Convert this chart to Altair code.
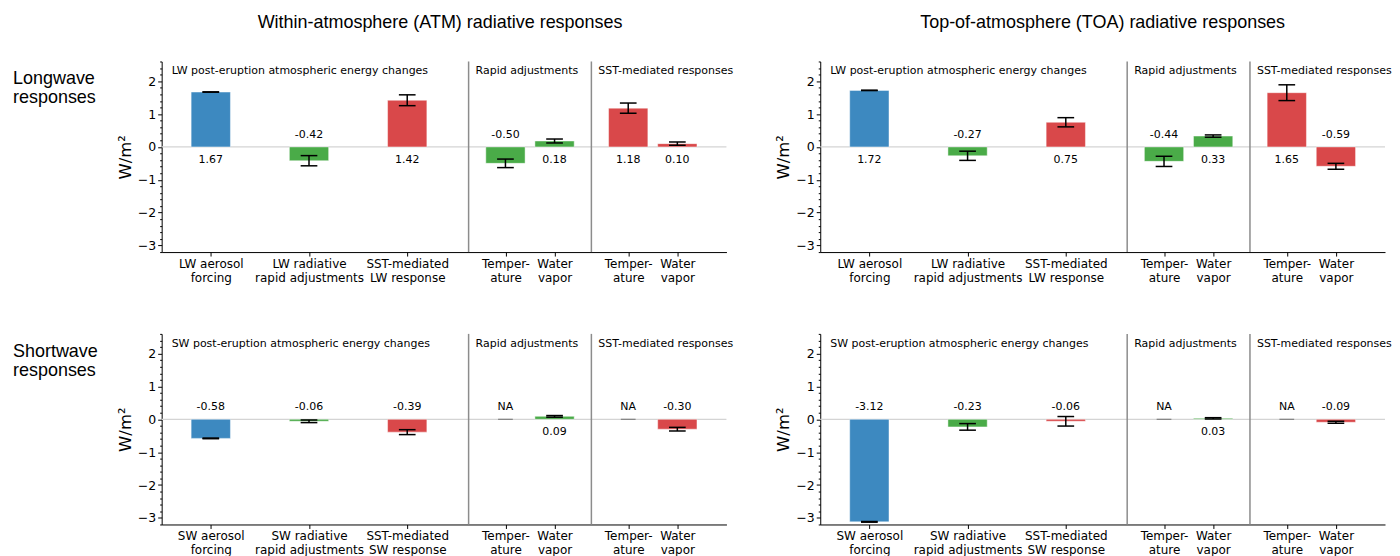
import altair as alt
import pandas as pd

# ---------------- data ----------------
labels_lw = ["LW aerosol\nforcing", "LW radiative\nrapid adjustments", "SST-mediated\nLW response",
             "Temper-\nature", "Water\nvapor", "Temper-\nature", "Water\nvapor"]
labels_sw = ["SW aerosol\nforcing", "SW radiative\nrapid adjustments", "SST-mediated\nSW response",
             "Temper-\nature", "Water\nvapor", "Temper-\nature", "Water\nvapor"]
kinds = ["forcing", "rapid", "sst", "rapid", "rapid", "sst", "sst"]

atm_lw_values = [1.67, -0.42, 1.42, -0.50, 0.18, 1.18, 0.10]
atm_lw_err = [0.005, 0.155, 0.165, 0.13, 0.06, 0.155, 0.05]
toa_lw_values = [1.72, -0.27, 0.75, -0.44, 0.33, 1.65, -0.59]
toa_lw_err = [0.005, 0.14, 0.14, 0.155, 0.035, 0.24, 0.09]
atm_sw_values = [-0.58, -0.06, -0.39, None, 0.09, None, -0.30]
atm_sw_err = [0.01, 0.04, 0.075, None, 0.025, None, 0.055]
toa_sw_values = [-3.12, -0.23, -0.06, None, 0.03, None, -0.09]
toa_sw_err = [0.01, 0.10, 0.145, None, 0.02, None, 0.03]

group_titles_lw = ["LW post-eruption atmospheric energy changes", "Rapid adjustments", "SST-mediated responses"]
group_titles_sw = ["SW post-eruption atmospheric energy changes", "Rapid adjustments", "SST-mediated responses"]
col_titles = ["Within-atmosphere (ATM) radiative responses", "Top-of-atmosphere (TOA) radiative responses"]
row_titles = ["Longwave\nresponses", "Shortwave\nresponses"]

# ---------------- layout ----------------
POS = [0, 2, 4, 6, 7, 8.5, 9.5]
GROUP_STARTS = [-1, 5.25, 7.75]
SEPS = [5.25, 7.75]
XDOM = [-1, 10.5]
YDOM = [-3.2, 2.6]
W, H = 566, 191
BAR_HALF = 0.4
CAP_HALF = 0.17
COLORS = {"forcing": "#3d89c0", "rapid": "#4aab48", "sst": "#d9484a"}
FONT = "DejaVu Sans"
TFONT = "Liberation Sans"

y_ticks = [k / 5 for k in range(-16, 14)]


def x_label_expr(labels):
    expr = "''"
    for p, l in reversed(list(zip(POS, labels))):
        parts = ",".join("'" + s + "'" for s in l.split("\n"))
        expr = f"datum.value == {p} ? [{parts}] : ({expr})"
    return expr


def panel(values, errs, labels, gtitles, title=None, row_label=None, title_dx=0):
    rows = []
    for i, (v, e, k) in enumerate(zip(values, errs, kinds)):
        rows.append(dict(pos=POS[i], value=v, err=e, kind=k,
                         txt=("NA" if v is None else f"{v:.2f}")))
    df = pd.DataFrame(rows)

    xax = alt.Axis(title="", values=POS, labelExpr=x_label_expr(labels), labelAngle=0,
                   labelFontSize=12, labelLineHeight=14, tickSize=4, labelPadding=2,
                   domainColor="black", tickColor="black", labelColor="black", grid=False)
    yax = alt.Axis(title="W/m²", values=y_ticks,
                   labelExpr="abs(datum.value - round(datum.value)) < 0.01 ? format(round(datum.value), 'd') : ''",
                   tickSize={"condition": {"test": "abs(datum.value - round(datum.value)) < 0.01", "value": 4},
                             "value": 2},
                   labelFontSize=12.5, labelPadding=2, titleFontSize=16.5, titleFontWeight="normal",
                   titlePadding=4, titleFont=FONT, domainColor="black", tickColor="black",
                   labelColor="black", grid=False)
    xs = alt.Scale(domain=XDOM, nice=False, zero=False)
    ys = alt.Scale(domain=YDOM, nice=False, zero=False)

    base = alt.Chart(df)

    zero = base.mark_rule(color="#d4d4d4", strokeWidth=1.2).encode(
        y=alt.Y("z:Q", scale=ys, axis=yax)).transform_calculate(z="0").transform_filter("datum.pos == 0")

    seps = alt.Chart(pd.DataFrame({"s": SEPS})).mark_rule(color="#8c8c8c", strokeWidth=1.5).encode(
        x=alt.X("s:Q", scale=xs, axis=xax))

    valid = base.transform_filter("isValid(datum.value)")

    bars = valid.transform_calculate(
        x1=f"datum.pos - {BAR_HALF}", x2=f"datum.pos + {BAR_HALF}", z="0"
    ).mark_bar(stroke="white", strokeOpacity=0.45, strokeWidth=1).encode(
        x=alt.X("x1:Q", scale=xs, axis=xax), x2="x2:Q",
        y=alt.Y("value:Q", scale=ys, axis=yax), y2="z:Q",
        color=alt.Color("kind:N", scale=alt.Scale(domain=list(COLORS), range=list(COLORS.values())), legend=None))

    errs_l = valid.transform_calculate(
        lo="datum.value - datum.err", hi="datum.value + datum.err",
        c1=f"datum.pos - {CAP_HALF}", c2=f"datum.pos + {CAP_HALF}")

    ebar = errs_l.mark_rule(color="black", strokeWidth=1.5).encode(
        x=alt.X("pos:Q", scale=xs, axis=xax), y=alt.Y("lo:Q", scale=ys, axis=yax), y2="hi:Q")
    cap_lo = errs_l.mark_rule(color="black", strokeWidth=1.5).encode(
        x=alt.X("c1:Q", scale=xs, axis=xax), x2="c2:Q", y=alt.Y("lo:Q", scale=ys, axis=yax))
    cap_hi = errs_l.mark_rule(color="black", strokeWidth=1.5).encode(
        x=alt.X("c1:Q", scale=xs, axis=xax), x2="c2:Q", y=alt.Y("hi:Q", scale=ys, axis=yax))

    na = base.transform_filter("!isValid(datum.value)").transform_calculate(
        c1=f"datum.pos - 0.15", c2=f"datum.pos + 0.15", z="0"
    ).mark_rule(color="#808080", strokeWidth=1.2).encode(
        x=alt.X("c1:Q", scale=xs, axis=xax), x2="c2:Q", y=alt.Y("z:Q", scale=ys, axis=yax))

    vlab = base.transform_calculate(
        ly="isValid(datum.value) && datum.value >= 0 ? -0.4 : 0.37"
    ).mark_text(font=FONT, fontSize=11, color="black", baseline="middle").encode(
        x=alt.X("pos:Q", scale=xs, axis=xax), y=alt.Y("ly:Q", scale=ys, axis=yax), text="txt:N")

    gdf = pd.DataFrame({"g": gtitles, "gx": GROUP_STARTS})
    gt1 = alt.Chart(gdf.iloc[:1]).mark_text(font=FONT, fontSize=11, color="black", align="left",
                                             baseline="middle", dx=10).encode(
        x=alt.X("gx:Q", scale=xs, axis=xax), y=alt.value(10), text="g:N")
    gt2 = alt.Chart(gdf.iloc[1:]).mark_text(font=FONT, fontSize=11, color="black", align="left",
                                             baseline="middle", dx=7).encode(
        x=alt.X("gx:Q", scale=xs, axis=xax), y=alt.value(10), text="g:N")

    layers = [zero, seps, bars, ebar, cap_lo, cap_hi, na, vlab, gt1, gt2]
    if row_label is not None:
        rl = alt.Chart(pd.DataFrame({"t": [row_label]})).mark_text(
            font=TFONT, fontSize=18, color="black", align="left", baseline="top",
            lineBreak="\n", lineHeight=19).encode(x=alt.value(-149), y=alt.value(9), text="t:N")
        layers.append(rl)

    ch = alt.layer(*layers).properties(width=W, height=H)
    if title is not None:
        ch = ch.properties(title=alt.TitleParams(title, font=TFONT, fontSize=18, fontWeight="normal",
                                                 anchor="middle", frame="group", offset=29, color="black",
                                                 dx=title_dx))
    return ch


p11 = panel(atm_lw_values, atm_lw_err, labels_lw, group_titles_lw, col_titles[0], row_titles[0], title_dx=-4)
p12 = panel(toa_lw_values, toa_lw_err, labels_lw, group_titles_lw, col_titles[1])
p21 = panel(atm_sw_values, atm_sw_err, labels_sw, group_titles_sw, None, row_titles[1])
p22 = panel(toa_sw_values, toa_sw_err, labels_sw, group_titles_sw)

row1 = alt.hconcat(p11, p12, spacing=42)
row2 = alt.hconcat(p21, p22, spacing=42)
chart = alt.vconcat(row1, row2, spacing=50).properties(
    padding={"left": 5, "top": 5, "right": 0, "bottom": 0}
).configure_view(stroke=None).configure_axis(labelFont=FONT, titleFont=FONT)

chart.save("out.html", embed_options={"renderer": "svg", "actions": False})
